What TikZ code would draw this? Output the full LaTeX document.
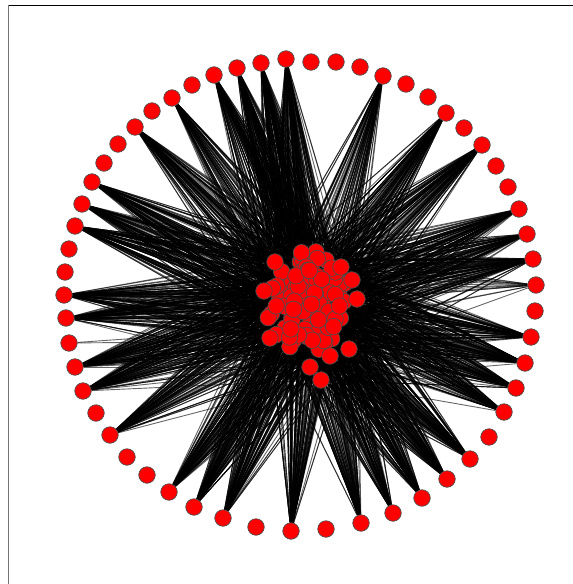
\documentclass[tikz,border=0pt]{standalone}
\pgfdeclarelayer{links}
\pgfsetlayers{links,main}
\tikzset{
  vtx/.style={circle, minimum size=16.5pt, inner sep=0pt, fill=red, draw=black!70, line width=0.7pt},
  linkline/.style={draw=black, line width=0.9pt, opacity=0.6},
  frameleft/.style={draw=black!55, line width=1.4pt},
  frametop/.style={draw=black, line width=1pt}
}
\begin{document}
\begin{tikzpicture}[x=1pt,y=-1pt]
\useasboundingbox (0,0) rectangle (573,584);
% frame of the axes
\coordinate (fbl) at (8.5,584);
\coordinate (ftl) at (8.5,5);
\coordinate (ftr) at (573,5);
\draw[frameleft] (fbl) -- (ftl);
\draw[frametop] (ftl) -- (ftr);
% outer ring
\foreach \x/\y [count=\i] in {
 286/59, 311/62, 336/62, 360/67, 383/76, 406/84, 428/97, 446/113, 464/128, 482/145,
 496/166, 508/187, 519/209, 527/234, 533/259, 536/285, 535/311, 531/337, 525/363, 516/388,
 504/412, 489/437, 470/459, 447/479, 422/498, 393/513, 361/523, 326/529, 291/531, 256/527,
 223/518, 194/507, 169/492, 147/475, 127/457, 110/435, 96/413, 83/391, 75/367, 69/343,
 66/318, 64/295, 65/272, 69/249, 75/226, 82/204, 92/182, 104/163, 118/144, 135/127,
 152/111, 172/98, 192/85, 214/75, 237/68, 261/63}
 { \node[vtx] (o\i) at (\x,\y) {}; }
% inner cluster
\pgfmathsetseed{7}
\foreach \i in {1,...,85} {
  \pgfmathsetmacro\ra{sqrt(rnd)}
  \pgfmathsetmacro\aa{360*rnd}
  \node[vtx] (c\i) at ({306+42*\ra*cos(\aa)},{302+52*\ra*sin(\aa)}) {};
}
\foreach \x/\y [count=\i from 86] in {349/349, 321/380, 357/299, 352/280, 341/267, 275/262,
  264/291, 270/338, 310/367, 330/356}
 { \node[vtx] (c\i) at (\x,\y) {}; }
% links
\begin{pgfonlayer}{links}
\foreach \p/\k in {1/130, 5/80, 8/100, 10/95, 13/95, 14/70, 15/100, 16/15, 18/85, 19/100, 20/85,
  21/85, 23/100, 24/95, 25/95, 26/85, 27/80, 29/110, 31/100, 32/95, 33/95, 36/85, 38/95,
  39/100, 40/2, 41/90, 42/100, 45/95, 46/85, 47/95, 50/95, 52/70, 54/95, 55/110, 56/110}
{
  \foreach \j in {1,...,\k} {
    \pgfmathtruncatemacro\t{random(1,95)}
    \draw[linkline] (o\p) -- (c\t);
  }
}
\foreach \j in {1,...,900} {
  \pgfmathtruncatemacro\a{random(1,95)}
  \pgfmathtruncatemacro\b{random(1,95)}
  \draw[linkline] (c\a) -- (c\b);
}
\end{pgfonlayer}
\end{tikzpicture}
\end{document}
